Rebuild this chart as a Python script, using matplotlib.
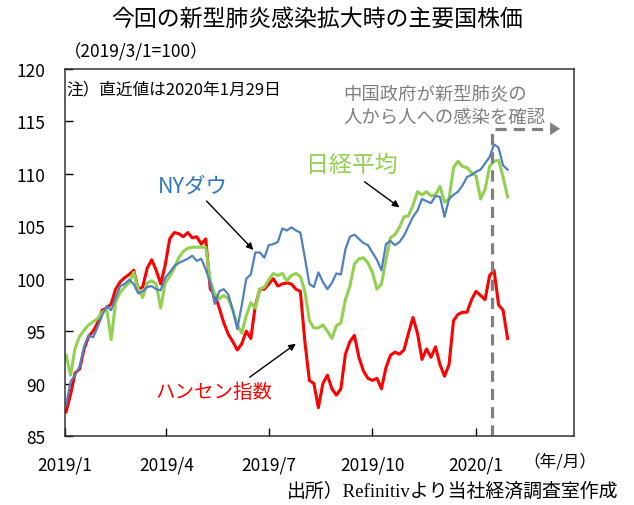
import matplotlib
matplotlib.use('Agg')
import matplotlib.pyplot as plt
import pandas as pd

plt.rcParams['font.family'] = ['Noto Sans CJK JP', 'DejaVu Sans']

# 4日おきの読み取り値 (2019/1/2 ～ 2020/1/29)
dates = pd.date_range('2019-01-02', '2020-01-29', freq='4D')

hangseng = [87.3, 89.0, 91.0, 91.4, 93.3, 94.5, 95.0, 95.8, 97.0, 97.2,
            97.6, 99.0, 99.7, 100.1, 100.4, 100.8, 99.0, 99.2, 101.0, 101.8,
            100.8, 99.5, 101.3, 103.8, 104.4, 104.3, 104.0, 104.4, 103.9, 104.0,
            103.3, 103.8, 99.0, 98.5, 97.2, 95.8, 94.7, 94.0, 93.2, 93.8,
            95.0, 94.3, 97.4, 99.0, 99.0, 99.5, 100.0, 99.3, 99.5, 99.6,
            99.5, 99.0, 98.8, 94.0, 90.3, 90.0, 87.7, 90.0, 90.8, 89.5,
            88.9, 89.5, 92.8, 94.0, 94.6, 92.5, 91.2, 90.5, 90.3, 90.5,
            89.5, 91.5, 92.7, 93.0, 92.8, 93.2, 94.8, 96.3, 94.8, 92.3,
            93.3, 92.5, 93.5, 91.8, 90.7, 91.8, 96.0, 96.6, 96.8, 96.8,
            98.0, 98.8, 98.4, 98.0, 100.3, 100.8, 97.5, 97.0, 94.3]

nydow = [88.0, 90.2, 90.8, 91.6, 93.5, 94.6, 94.4, 95.4, 96.5, 97.4,
         97.0, 98.2, 99.3, 99.5, 99.9, 99.5, 98.6, 98.8, 99.2, 99.3,
         99.0, 98.9, 100.1, 100.6, 101.2, 101.5, 101.7, 101.9, 102.2, 101.7,
         101.9, 100.9, 99.6, 97.6, 98.8, 99.0, 98.5, 97.0, 95.2, 97.5,
         100.0, 100.4, 102.5, 102.5, 102.0, 103.2, 103.3, 103.5, 104.8, 104.6,
         104.9, 104.6, 104.4, 102.0, 99.5, 99.2, 100.6, 99.7, 99.0, 99.6,
         100.5, 100.4, 102.8, 104.0, 104.2, 103.8, 103.4, 103.2, 102.5, 101.8,
         100.8, 103.3, 103.6, 103.2, 103.5, 104.1, 105.0, 105.9, 106.5, 107.6,
         107.4, 107.2, 107.9, 107.8, 105.9, 107.6, 108.0, 108.3, 108.9, 109.7,
         109.9, 110.2, 110.4, 111.0, 111.6, 112.8, 112.5, 110.8, 110.4]

nikkei = [92.7, 90.8, 93.4, 94.5, 95.1, 95.6, 95.9, 96.2, 96.8, 97.1,
          94.2, 97.8, 98.7, 99.2, 99.6, 100.6, 99.0, 98.2, 99.6, 99.8,
          99.5, 97.2, 99.6, 100.2, 101.0, 102.0, 102.6, 102.9, 103.0, 103.0,
          103.0, 103.0, 99.8, 98.5, 98.1, 98.4, 98.1, 97.0, 95.6, 94.8,
          96.5, 97.7, 97.2, 99.0, 99.2, 99.9, 100.5, 100.3, 100.5, 99.8,
          100.3, 100.5, 100.2, 98.8, 96.0, 95.3, 95.3, 95.6, 95.0, 94.3,
          95.5, 95.8, 98.0, 99.3, 101.4, 101.9, 102.0, 101.5, 100.6, 99.0,
          99.5, 101.8, 103.9, 104.2, 104.9, 105.9, 106.0, 107.0, 108.3, 108.0,
          108.3, 107.9, 108.0, 108.8, 107.3, 107.6, 110.6, 111.2, 110.7, 110.6,
          110.1, 109.8, 107.6, 108.5, 110.7, 111.2, 111.3, 109.7, 107.8]

tick_dates = ['2019-01-01', '2019-04-01', '2019-07-01', '2019-10-01', '2020-01-01']
tick_labels = ['2019/1', '2019/4', '2019/7', '2019/10', '2020/1']
event_date = '2020-01-15'   # 人から人への感染を確認

fig = plt.figure(figsize=(6.34, 5.06), dpi=100)
ax = fig.add_axes([0.1025, 0.1364, 0.8029, 0.7253])

ax.plot(dates, hangseng, color='#FF0000', lw=2.2)
ax.plot(dates, nikkei, color='#92D050', lw=2.2)
ax.plot(dates, nydow, color='#4F81BD', lw=1.6)

ax.set_xlim(pd.Timestamp('2019-01-01'), pd.Timestamp('2020-03-28'))
ax.set_ylim(85, 120)
ax.set_yticks(range(85, 121, 5))
ax.set_xticks([pd.Timestamp(d) for d in tick_dates])
ax.set_xticklabels(tick_labels)
ax.tick_params(direction='in', length=6, width=1, labelsize=12.5, pad=14)
for s in ax.spines.values():
    s.set_linewidth(1.1)
    s.set_color('#333333')

# 中国政府の確認 (破線)
ev = pd.Timestamp(event_date)
ax.plot([ev, ev], [85, 114.3], color='#808080', lw=2.3, ls=(0, (3.5, 2.2)))
ax.plot([ev + pd.Timedelta(days=3), pd.Timestamp('2020-03-09')], [114.3, 114.3],
        color='#808080', lw=2.3, ls=(0, (3.5, 2.2)))
ax.annotate('', xy=(pd.Timestamp('2020-03-18'), 114.3), xytext=(pd.Timestamp('2020-03-09'), 114.3),
            arrowprops=dict(arrowstyle='-|>,head_length=0.7,head_width=0.45', color='#808080', lw=0.1))
ax.text(pd.Timestamp('2019-09-05'), 116.5, '中国政府が新型肺炎の\n人から人への感染を確認',
        color='#7F7F7F', fontsize=13.2, va='center', linespacing=1.3)

# 系列ラベル
ax.text(pd.Timestamp('2019-04-25'), 108.9, 'NYダウ', color='#2E78C0', fontsize=15.5,
        ha='center', va='center')
ax.annotate('', xy=(pd.Timestamp('2019-06-19'), 102.55), xytext=(pd.Timestamp('2019-05-05'), 107.6),
            arrowprops=dict(arrowstyle='-|>', color='black', lw=1))
ax.text(pd.Timestamp('2019-09-13'), 110.9, '日経平均', color='#92D050', fontsize=16.5,
        ha='center', va='center')
ax.annotate('', xy=(pd.Timestamp('2019-10-27'), 106.65), xytext=(pd.Timestamp('2019-09-22'), 109.4),
            arrowprops=dict(arrowstyle='-|>', color='black', lw=1))
ax.text(pd.Timestamp('2019-05-13'), 89.2, 'ハンセン指数', color='#FF0000', fontsize=14,
        ha='center', va='center')
ax.annotate('', xy=(pd.Timestamp('2019-07-27'), 93.95), xytext=(pd.Timestamp('2019-06-12'), 90.45),
            arrowprops=dict(arrowstyle='-|>', color='black', lw=1))

ax.text(0.003, 0.945, '注）直近値は2020年1月29日', transform=ax.transAxes, fontsize=12,
        va='center')

fig.text(0.5, 0.962, '今回の新型肺炎感染拡大時の主要国株価', ha='center', va='center', fontsize=16.5)
fig.text(0.1, 0.896, '（2019/3/1=100）', ha='left', va='center', fontsize=12.5)
fig.text(0.883, 0.087, '（年/月）', ha='center', va='center', fontsize=12)
fig.text(0.975, 0.028, '出所）Refinitivより当社経済調査室作成', ha='right', va='center',
         fontsize=13.6, family=['Liberation Serif', 'Noto Sans CJK JP'])

fig.savefig('out.png', dpi=100)
